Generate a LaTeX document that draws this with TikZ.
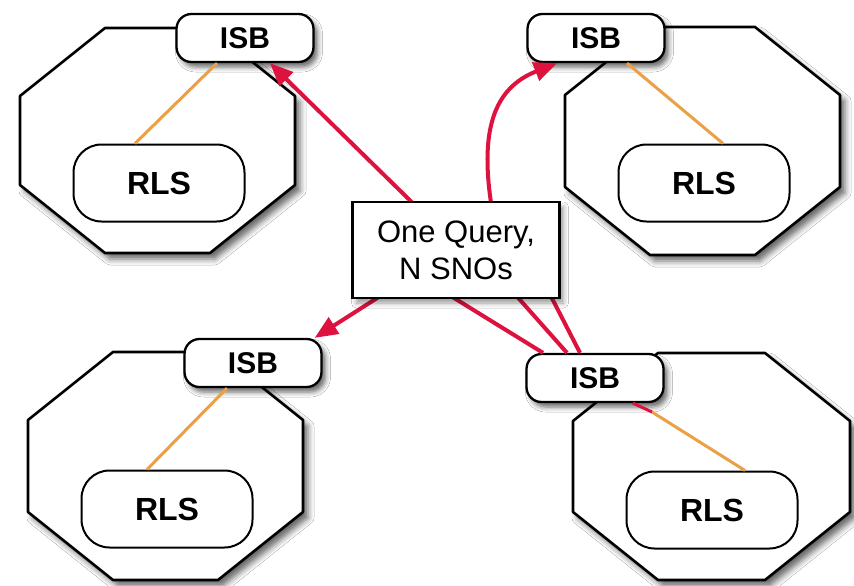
\documentclass[tikz,border=0pt]{standalone}
\usepackage{fontspec}
\setmainfont{Liberation Sans}
\usetikzlibrary{shadows.blur,arrows.meta}

\definecolor{queryred}{RGB}{222,18,62}
\definecolor{linkorange}{RGB}{236,160,70}

\tikzset{
  softshadow/.style={blur shadow={shadow xshift=5pt,shadow yshift=-6pt,shadow blur radius=6pt,shadow opacity=60}},
  octo/.style={draw=black,line width=2.6pt,fill=white,line join=round,softshadow},
  isbbox/.style={draw,line width=2.3pt,fill=white,rounded corners=15pt,
    minimum width=137pt,minimum height=48pt,inner sep=0pt,
    font=\fontsize{30}{34}\selectfont\bfseries,
    blur shadow={shadow xshift=4pt,shadow yshift=-5pt,shadow blur radius=5pt,shadow opacity=60}},
  rlsbox/.style={draw,line width=2pt,fill=white,rounded corners=28pt,
    minimum width=171pt,minimum height=77pt,inner sep=0pt,
    font=\fontsize{32}{38}\selectfont\bfseries},
  querybox/.style={draw,line width=2.2pt,fill=white,minimum width=207pt,minimum height=96pt,
    inner sep=0pt,align=center,font=\fontsize{31}{37}\selectfont,
    blur shadow={shadow xshift=4pt,shadow yshift=-5pt,shadow blur radius=5pt,shadow opacity=40}},
  queryline/.style={draw=queryred,line width=4pt,line join=round},
  queryarrow/.style={queryline,-{Triangle[length=23pt,width=19pt]}},
  link/.style={draw=linkorange,line width=3pt},
}

% octagon from its bounding box (x1,y1)-(x2,y2)
\newcommand\siteoctagon[4]{%
  \path[octo] ({#1+85},#2) -- ({#3-85},#2) -- (#3,{#2+68}) -- (#3,{#4-68})
    -- ({#3-85},#4) -- ({#1+85},#4) -- (#1,{#4-68}) -- (#1,{#2+68}) -- cycle;}

\begin{document}
\begin{tikzpicture}[x=1pt,y=-1pt]
  \useasboundingbox[fill=white] (0,0) rectangle (854,586);

  % sites
  \siteoctagon{20}{28}{295}{253}
  \siteoctagon{565}{27}{840}{255}
  \siteoctagon{28}{352}{303}{580}
  \siteoctagon{573}{353}{850}{580}

  % index service nodes
  \node[isbbox] (isbTL) at (245,38) {ISB};
  \node[isbbox] (isbTR) at (596,38) {ISB};
  \node[isbbox] (isbBL) at (253,363) {ISB};
  \node[isbbox] (isbBR) at (595,378) {ISB};

  % local servers
  \node[rlsbox] (rlsTL) at (159,183) {RLS};
  \node[rlsbox] (rlsTR) at (704,183) {RLS};
  \node[rlsbox] (rlsBL) at (167,509) {RLS};
  \node[rlsbox] (rlsBR) at (712,510) {RLS};

  % links inside each site
  \draw[link] ([xshift=-28pt]isbTL.south) -- ([xshift=-24pt]rlsTL.north);
  \draw[link] ([xshift=31pt]isbTR.south) -- ([xshift=19pt]rlsTR.north);
  \draw[link] ([xshift=-26pt]isbBL.south) -- ([xshift=-20pt]rlsBL.north);
  \coordinate (brmid) at (652,412);
  \draw[link] (brmid) -- ([xshift=33pt]rlsBR.north);
  \draw[queryline,line width=3pt] ([xshift=38pt]isbBR.south) -- (brmid);

  % query fan-out
  \draw[queryarrow] ([xshift=-15pt]isbBR.north) -- (540,275) -- (430,220)
    -- ([xshift=25pt]isbTL.south);
  \draw[queryarrow] ([xshift=-28pt]isbBR.north) -- (505,283) -- (493,215)
    .. controls (478,130) and (494,88) .. ([xshift=-39pt]isbTR.south);
  \draw[queryarrow] ([xshift=-52pt]isbBR.north) -- (420,277) -- (385,293)
    -- ([xshift=-8pt]isbBL.north east);

  \node[querybox] (query) at (456,250) {One Query,\\N SNOs};
\end{tikzpicture}
\end{document}
